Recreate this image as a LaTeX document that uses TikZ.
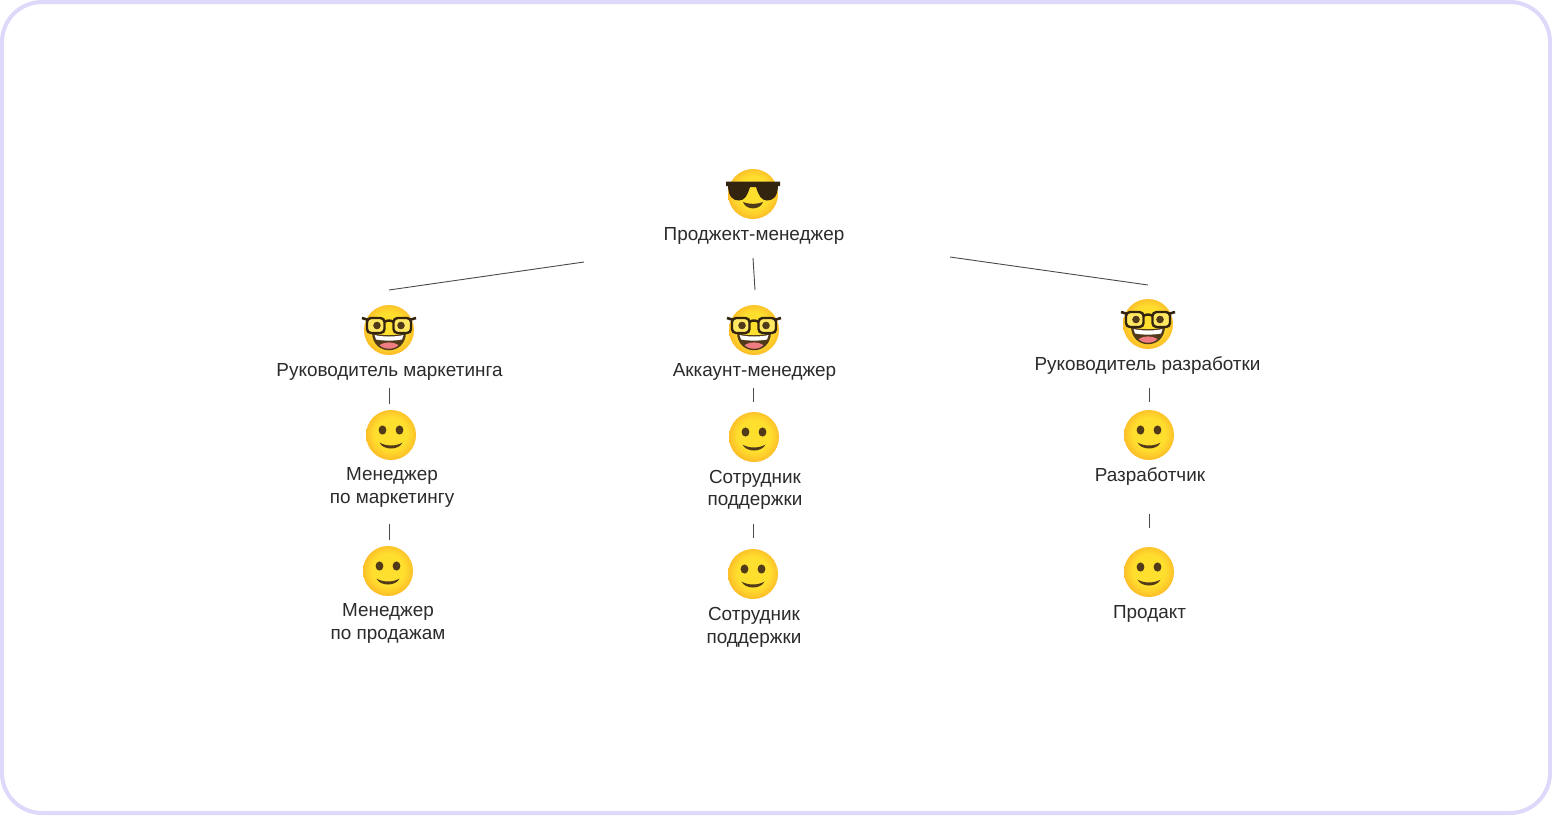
\documentclass[tikz,border=0pt]{standalone}
\usepackage{fontspec}
\setmainfont{Liberation Sans}
\definecolor{framecol}{HTML}{DED8FA}
\definecolor{inkcol}{HTML}{2B2B2B}
\definecolor{linecol}{HTML}{4A4A4A}
\definecolor{facemid}{HTML}{FFDF2E}
\definecolor{faceout}{HTML}{FDC72A}
\definecolor{browncol}{HTML}{503A1A}
\definecolor{lenscol}{HTML}{33240F}
\definecolor{tonguecol}{HTML}{EE7C80}
% A radial fill, centred slightly high, so the rim is warmest along the chin
\pgfdeclareradialshading{emojiface}{\pgfpoint{0bp}{2bp}}{%
  color(0bp)=(facemid); color(16bp)=(facemid); color(23bp)=(faceout); color(27bp)=(faceout!75!orange); color(50bp)=(faceout!75!orange)}
\tikzset{
  x=1pt,y=-1pt,
  face/.style={circle,draw=none,minimum size=50pt,inner sep=0pt,shading=emojiface},
  role/.style={font=\fontsize{18.9}{22.7}\selectfont,text=inkcol,align=center,inner sep=0pt,anchor=center},
  link/.style={draw=linecol,line width=0.9pt},
  feature/.style={fill=browncol,draw=none},
}
% Facial details, drawn relative to the centre of a face node
\newcommand{\smileface}[1]{%
  \begin{scope}[shift={(#1)}]
    \fill[feature] (-8.5,-5) ellipse [x radius=3.9,y radius=4.6];
    \fill[feature] (8.5,-5) ellipse [x radius=3.9,y radius=4.6];
    \fill[feature] (-11.5,7.5) .. controls (-5,11.5) and (5,11.5) .. (11.5,7.5)
      .. controls (8,15.5) and (-8,15.5) .. (-11.5,7.5) -- cycle;
  \end{scope}}
\newcommand{\nerdface}[1]{%
  \begin{scope}[shift={(#1)}]
    \fill[browncol] (-17,3) .. controls (-6,6) and (6,6) .. (17,3)
      .. controls (16,26) and (-16,26) .. (-17,3) -- cycle;
    \fill[white] (-14.5,5) .. controls (-6,7) and (6,7) .. (14.5,5) -- (13,9.5)
      .. controls (5,11) and (-5,11) .. (-13,9.5) -- cycle;
    \fill[tonguecol] (-9.5,15) .. controls (-4,11.5) and (4,11.5) .. (9.5,15)
      .. controls (5,20) and (-5,20) .. (-9.5,15) -- cycle;
    \draw[lenscol,line width=2.4pt,fill=facemid!75!white,rounded corners=4pt] (-22,-12) rectangle (-4.5,3);
    \draw[lenscol,line width=2.4pt,fill=facemid!75!white,rounded corners=4pt] (4.5,-12) rectangle (22,3);
    \draw[lenscol,line width=2.4pt] (-4.5,-8) .. controls (-2,-10) and (2,-10) .. (4.5,-8);
    \draw[lenscol,line width=2.6pt] (-22,-10.5) -- (-27,-12);
    \draw[lenscol,line width=2.6pt] (22,-10.5) -- (27,-12);
    \fill[browncol] (-12,-4.5) circle [radius=3.8];
    \fill[browncol] (12,-4.5) circle [radius=3.8];
  \end{scope}}
\newcommand{\coolface}[1]{%
  \begin{scope}[shift={(#1)}]
    \fill[lenscol] (-27,-12.5) -- (27,-12.5) -- (27,-8) -- (25,-8)
      .. controls (24.5,3) and (20,6.5) .. (14,6.5)
      .. controls (8,6.5) and (5.5,1) .. (3,-7) -- (-3,-7)
      .. controls (-5.5,1) and (-8,6.5) .. (-14,6.5)
      .. controls (-20,6.5) and (-24.5,3) .. (-25,-8) -- (-27,-8) -- cycle;
    \fill[browncol] (-10,8) .. controls (-4,10.5) and (4,10.5) .. (10,8)
      .. controls (7,16.5) and (-7,16.5) .. (-10,8) -- cycle;
  \end{scope}}
\begin{document}
\begin{tikzpicture}
  \useasboundingbox (0,0) rectangle (1552,815);
  \fill[white] (0,0) rectangle (1552,815);
  \draw[framecol,line width=4pt,rounded corners=40pt] (2,2) rectangle (1550,813);

  % Faces
  \node[face] (lead) at (753,194) {};
  \node[face] (headm) at (389,330) {};
  \node[face] (heada) at (754,330) {};
  \node[face] (headd) at (1148,324) {};
  \node[face] (mktg) at (391,435) {};
  \node[face] (sales) at (388,571) {};
  \node[face] (supa) at (754,437) {};
  \node[face] (supb) at (753,574) {};
  \node[face] (dev) at (1149,435) {};
  \node[face] (prod) at (1149,572) {};
  \coolface{lead}
  \nerdface{headm}
  \nerdface{heada}
  \nerdface{headd}
  \smileface{mktg}
  \smileface{sales}
  \smileface{supa}
  \smileface{supb}
  \smileface{dev}
  \smileface{prod}

  % Role captions
  \node[role] (tlead) at (754,235.5) {Проджект-менеджер};
  \node[role] (theadm) at (389.5,371.5) {Руководитель маркетинга};
  \node[role] (theada) at (754.5,371.5) {Аккаунт-менеджер};
  \node[role] (theadd) at (1147.5,365.5) {Руководитель разработки};
  \node[role] (tmktg) at (392,487.5) {Менеджер\\по маркетингу};
  \node[role] (tsales) at (388,623.5) {Менеджер\\по продажам};
  \node[role] (tsupa) at (755,490) {Сотрудник\\поддержки};
  \node[role] (tsupb) at (754,627) {Сотрудник\\поддержки};
  \node[role] (tdev) at (1150,476.5) {Разработчик};
  \node[role] (tprod) at (1149.5,613.5) {Продакт};

  % Connector ends
  \coordinate (a1) at (584,262); \coordinate (a2) at (389,290);
  \coordinate (b1) at (753,258); \coordinate (b2) at (755,290);
  \coordinate (c1) at (950,257); \coordinate (c2) at (1148,285);
  \coordinate (d1) at (389,388); \coordinate (d2) at (389,404);
  \coordinate (e1) at (753,388); \coordinate (e2) at (753,402);
  \coordinate (f1) at (1149,388); \coordinate (f2) at (1149,402);
  \coordinate (g1) at (389,524); \coordinate (g2) at (389,540);
  \coordinate (h1) at (753,524); \coordinate (h2) at (753,538);
  \coordinate (i1) at (1149,514); \coordinate (i2) at (1149,528);

  % Connectors
  \foreach \p/\q in {a1/a2,b1/b2,c1/c2,d1/d2,e1/e2,f1/f2,g1/g2,h1/h2,i1/i2}
    \draw[link] (\p) -- (\q);
\end{tikzpicture}
\end{document}
